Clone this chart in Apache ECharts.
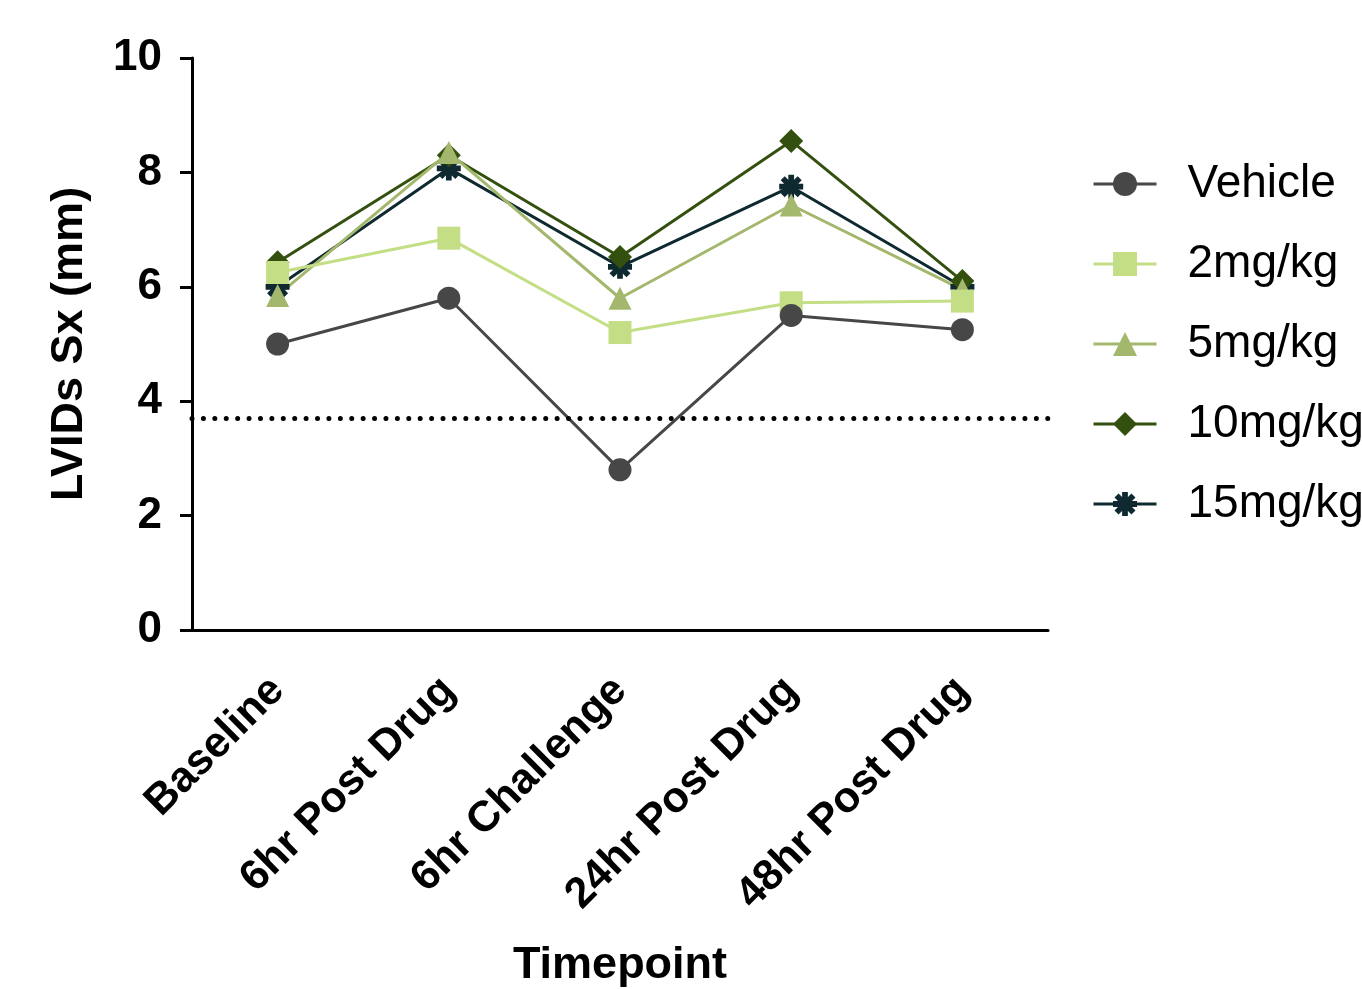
<!DOCTYPE html>
<html>
<head>
<meta charset="utf-8">
<script src="https://cdn.jsdelivr.net/npm/echarts@6/dist/echarts.min.js"></script>
<style>
html,body{margin:0;padding:0;background:#fff;}
#c{width:1362px;height:989px;}
</style>
</head>
<body>
<div id="c"></div>
<script>
const categories = ['Baseline', '6hr Post Drug', '6hr Challenge', '24hr Post Drug', '48hr Post Drug'];
const vehicle = [5.0, 5.8, 2.8, 5.5, 5.25];
const mg2 = [6.25, 6.85, 5.2, 5.72, 5.75];
const mg5 = [5.85, 8.35, 5.8, 7.43, 5.95];
const mg10 = [6.43, 8.3, 6.52, 8.55, 6.1];
const mg15 = [6.0, 8.07, 6.35, 7.75, 6.0];
const threshold = 3.7;
const yTicks = [0, 2, 4, 6, 8, 10];

const FONT = 'Liberation Sans, Arial, Helvetica, sans-serif';
const asterisk = 'path://M-1.2,-5L1.2,-5L1.2,5L-1.2,5Z M-5,-1.2L5,-1.2L5,1.2L-5,1.2Z M4.38,2.69L2.69,4.38L-4.38,-2.69L-2.69,-4.38Z M2.69,-4.38L4.38,-2.69L-2.69,4.38L-4.38,2.69Z';

function mk(name, data, color, symbol, size) {
  return {
    name: name, type: 'line', data: data,
    symbol: symbol, symbolSize: size,
    itemStyle: {color: color},
    lineStyle: {color: color, width: 3},
    emphasis: {disabled: true},
    animation: false
  };
}

const chart = echarts.init(document.getElementById('c'), null, {renderer: 'canvas'});
const series = [
  mk('15mg/kg', mg15, '#0e2a30', asterisk, 24),
  mk('10mg/kg', mg10, '#33500f', 'diamond', 24),
  mk('5mg/kg', mg5, '#a4b86d', 'triangle', 23),
  mk('2mg/kg', mg2, '#c4de85', 'rect', 23),
  mk('Vehicle', vehicle, '#474747', 'circle', 23)
];
series[0].markLine = {
  silent: true, symbol: 'none', animation: false,
  label: {show: false},
  lineStyle: {color: '#000', width: 5, type: [0.01, 11.4], cap: 'round'},
  data: [{yAxis: threshold}]
};
chart.setOption({
  backgroundColor: '#fff',
  animation: false,
  grid: {left: 192, right: 314, top: 58, bottom: 359, outerBoundsMode: 'none', containLabel: false},
  legend: {
    orient: 'vertical', left: 1092, top: 159, padding: 0,
    data: ['Vehicle', '2mg/kg', '5mg/kg', '10mg/kg', '15mg/kg'],
    itemWidth: 63, itemHeight: 30, itemGap: 30,
    lineStyle: {width: 3},
    textStyle: {fontFamily: FONT, fontSize: 46, color: '#000', lineHeight: 50, padding: [0, 0, 0, 26]},
    selectedMode: false
  },
  xAxis: {
    type: 'category', data: categories, boundaryGap: true,
    name: 'Timepoint', nameLocation: 'middle', nameGap: 313,
    nameTextStyle: {fontFamily: FONT, fontSize: 45, fontWeight: 'bold', color: '#000'},
    axisLine: {lineStyle: {color: '#000', width: 3}},
    axisTick: {alignWithLabel: true, length: 12, lineStyle: {color: '#000', width: 3}},
    axisLabel: {rotate: 45, margin: 54, fontFamily: FONT, fontSize: 43, fontWeight: 'bold', color: '#000', interval: 0},
    splitLine: {show: false}
  },
  yAxis: {
    type: 'value', min: yTicks[0], max: yTicks[yTicks.length - 1], interval: 2,
    name: 'LVIDs Sx (mm)', nameLocation: 'middle', nameGap: 100, nameRotate: 90,
    nameTextStyle: {fontFamily: FONT, fontSize: 45, fontWeight: 'bold', color: '#000'},
    axisLine: {show: true, lineStyle: {color: '#000', width: 3}},
    axisTick: {show: true, length: 12, lineStyle: {color: '#000', width: 3}},
    axisLabel: {margin: 30, fontFamily: FONT, fontSize: 44, fontWeight: 'bold', color: '#000'},
    splitLine: {show: false}
  },
  series: series
});
</script>
</body>
</html>
